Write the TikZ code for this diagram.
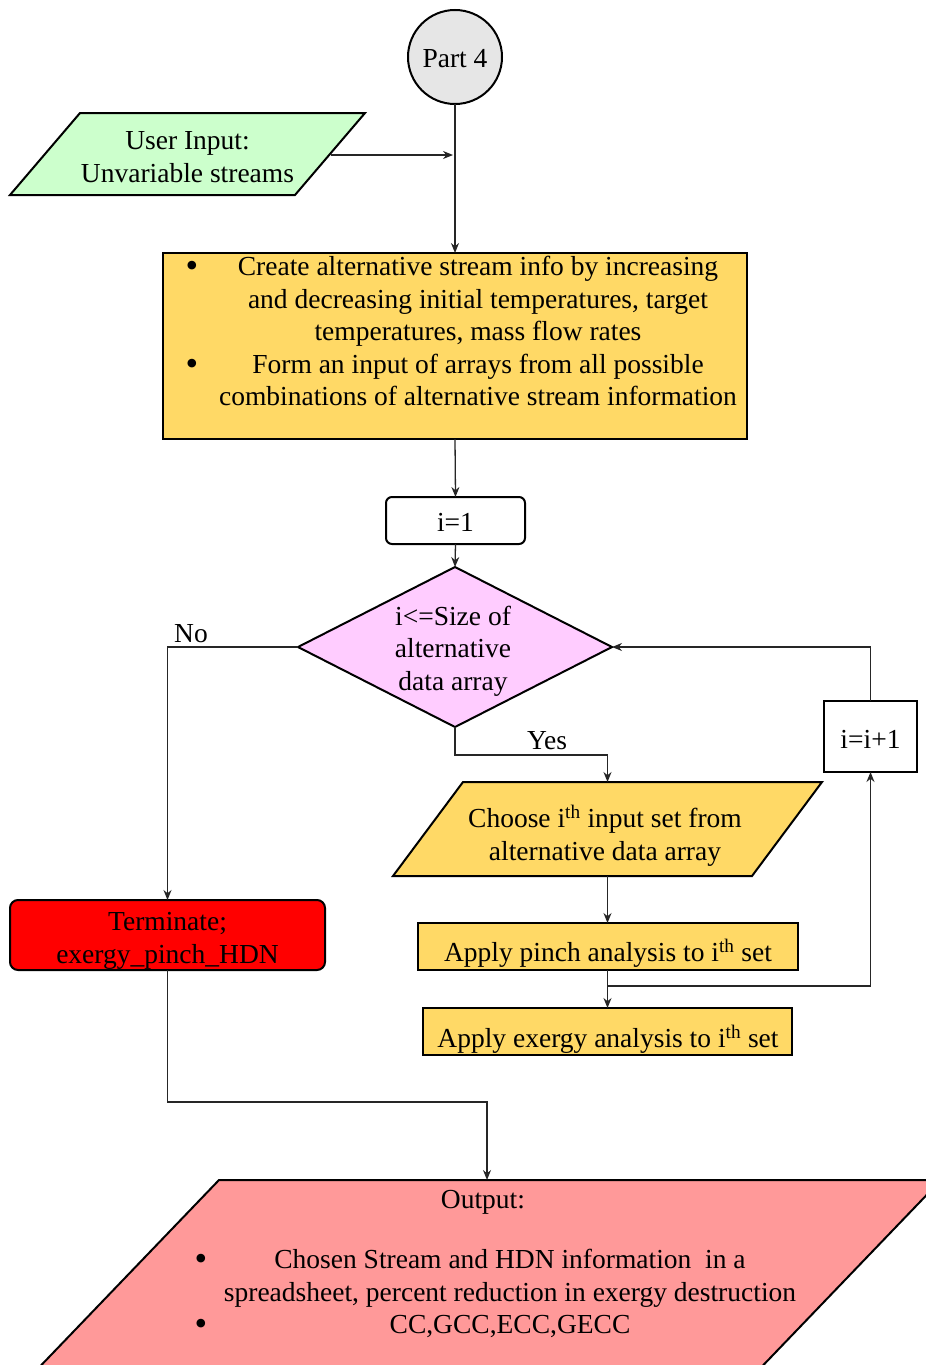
\documentclass[tikz,border=0pt]{standalone}
\usepackage{fontspec}
\setmainfont{Liberation Serif}
\usetikzlibrary{shapes.geometric,arrows.meta,calc}

\definecolor{startgray}{HTML}{E6E6E6}
\definecolor{inputgreen}{HTML}{CCFFCC}
\definecolor{procyellow}{HTML}{FFD966}
\definecolor{condpink}{HTML}{FFCCFF}
\definecolor{stopred}{HTML}{FF0000}
\definecolor{outred}{HTML}{FF9999}

\begin{document}
\begin{tikzpicture}[x=1pt,y=-1pt,
  every node/.style={font=\fontsize{27.5}{32.5}\selectfont, inner sep=0pt, outer sep=0pt},
  frame/.style={draw=black, line width=2pt},
  link/.style={draw=black!85, line width=1.3pt},
  arrowlink/.style={link, -{Stealth[length=10pt,width=8pt]}},
  txt/.style={align=center, text=black},
  dot/.style={font=\fontsize{36}{36}\selectfont}]
\clip (0,0) rectangle (926,1365);

% start connector
\node[circle, frame, fill=startgray, minimum size=94pt] (part4) at (455,57) {};
\node[txt] (part4txt) at (455,59) {Part 4};

% user input (parallelogram)
\filldraw[frame, fill=inputgreen] (80,113) -- (365,113) -- (295,195) -- (10,195) -- cycle;
\node[minimum width=286pt, minimum height=82pt] (user) at (187.5,155) {};
\node[txt] (usertxt) at (187.5,157) {User Input:\\Unvariable streams};

% alternative stream generation
\node[rectangle, frame, fill=procyellow, minimum width=584pt, minimum height=186pt] (create) at (455,346) {};
\node[txt] (createtxt) at (478,331) {Create alternative stream info by increasing\\and decreasing initial temperatures, target\\temperatures, mass flow rates\\Form an input of arrays from all possible\\combinations of alternative stream information};
\node[dot] (cb1) at (192,269) {\textbullet};
\node[dot] (cb2) at (192,367) {\textbullet};

% loop counter
\node[rectangle, frame, rounded corners=6pt, fill=white, minimum width=139pt, minimum height=47pt] (init) at (455.5,520.5) {};
\node[txt] (inittxt) at (455.5,522) {i=1};

% loop condition
\node[diamond, frame, fill=condpink, minimum width=314pt, minimum height=160pt] (cond) at (455,647) {};
\node[txt] (condtxt) at (453,651) {i<=Size of\\alternative\\data array};

% choose input set (parallelogram)
\filldraw[frame, fill=procyellow] (463,782) -- (822,782) -- (752,876) -- (393,876) -- cycle;
\node[minimum width=359pt, minimum height=94pt] (choose) at (607.5,829) {};
\node[txt] (choosetxt) at (605,836) {Choose i\textsuperscript{th} input set from\\alternative data array};

% analyses
\node[rectangle, frame, fill=procyellow, minimum width=380pt, minimum height=47pt] (pinch) at (607.5,946.5) {};
\node[txt] (pinchtxt) at (608,953) {Apply pinch analysis to i\textsuperscript{th} set};
\node[rectangle, frame, fill=procyellow, minimum width=369pt, minimum height=47pt] (exergy) at (607.5,1031.5) {};
\node[txt] (exergytxt) at (608,1039) {Apply exergy analysis to i\textsuperscript{th} set};

% increment
\node[rectangle, frame, fill=white, minimum width=93pt, minimum height=71pt] (inc) at (870.5,736.5) {};
\node[txt] (inctxt) at (870.5,739) {i=i+1};

% terminate
\node[rectangle, frame, rounded corners=8pt, fill=stopred, minimum width=315pt, minimum height=70pt] (term) at (167.5,935) {};
\node[txt] (termtxt) at (167.5,941) {Terminate;\\exergy\_pinch\_HDN};

% output (parallelogram)
\filldraw[frame, fill=outred] (219,1180) -- (941,1180) -- (749,1380) -- (27,1380) -- cycle;
\coordinate (outtop) at (487,1180);
\node[txt] (outhead) at (483,1202) {Output:};
\node[txt] (outtxt) at (510,1293.5) {Chosen Stream and HDN information \ in a\\spreadsheet, percent reduction in exergy destruction\\CC,GCC,ECC,GECC};
\node[dot] (ob1) at (201,1262) {\textbullet};
\node[dot] (ob2) at (201,1327) {\textbullet};

% branch labels
\node (nolbl) at (191,634) {No};
\node (yeslbl) at (547,741) {Yes};

% connectors
\coordinate (merge) at (part4.south |- user.east);
\draw[arrowlink] (part4.south) -- (create.north);
\draw[arrowlink, shorten >=2pt] (user.east) -- (merge);
\draw[arrowlink] (create.south) -- (init.north);
\draw[arrowlink] (init.south) -- (cond.north);
\draw[arrowlink] (cond.west) -| (term.north);
\draw[arrowlink] (cond.south) -- ++(0,28) -| (choose.north);
\draw[arrowlink] (choose.south) -- (pinch.north);
\draw[arrowlink] (pinch.south) -- (exergy.north);
\coordinate (split) at ([yshift=-16pt]pinch.south);
\draw[arrowlink] (split) -| (inc.south);
\draw[arrowlink] (inc.north) |- (cond.east);
\draw[arrowlink] (term.south) -- ++(0,132) -| (outtop);
\end{tikzpicture}
\end{document}
